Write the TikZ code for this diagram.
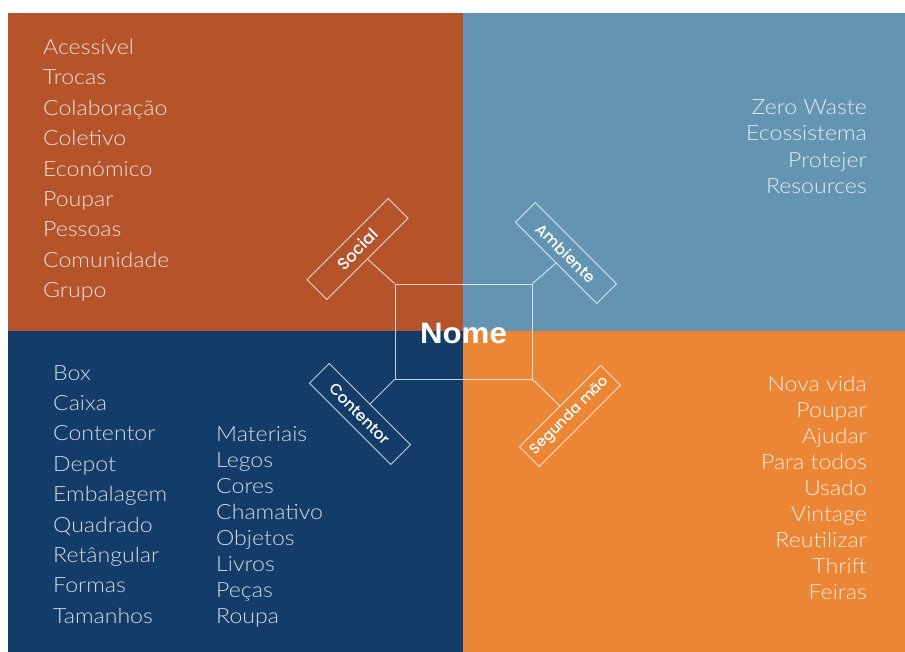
\documentclass[tikz,border=0pt]{standalone}
\usepackage{fontspec}
\IfFontExistsTF{Lato Light}
  {\newfontfamily\listfont[FakeStretch=1.1]{Lato Light}}
  {\newfontfamily\listfont[FakeStretch=1.1]{Lato}}
\IfFontExistsTF{Poppins Medium}
  {\newfontfamily\labelfont{Poppins Medium}}
  {\newfontfamily\labelfont[FakeBold=0.5]{Poppins}}
\newfontfamily\titlefont[FakeStretch=1.06]{Liberation Sans}
\definecolor{rust}{HTML}{B5542B}
\definecolor{steel}{HTML}{6395B3}
\definecolor{navy}{HTML}{133C68}
\definecolor{tangerine}{HTML}{EA8636}
\tikzset{
  word/.style={font=\listfont\fontsize{21}{21}\selectfont, text=white, text opacity=0.82, inner sep=0pt},
  wordL/.style={word, anchor=base west},
  wordR/.style={word, anchor=base east},
  frame/.style={draw=white, draw opacity=0.75, line width=0.9pt},
  tagbox/.style={frame, minimum width=115pt, minimum height=28pt, inner sep=0pt, text=white},
  tagsize/.style={font=\labelfont\fontsize{#1}{#1}\selectfont},
  link/.style={draw=white, draw opacity=0.75, line width=0.9pt}
}
\begin{document}
\begin{tikzpicture}[x=1pt, y=-1pt]
  \useasboundingbox (0,0) rectangle (905,652);
  % four quadrants
  \fill[rust] (8,13) rectangle (463,331);
  \fill[steel] (463,13) rectangle (905,331);
  \fill[navy] (8,331) rectangle (463,652);
  \fill[tangerine] (463,331) rectangle (905,652);

  % word lists
  \foreach \w [count=\i] in {Acessível, Trocas, Colaboração, Coletivo, Económico, Poupar, Pessoas, Comunidade, Grupo}
    \node[wordL] (soc\i) at (43, 54.5+30.4*\i-30.4) {\w};
  \foreach \w [count=\i] in {Zero Waste, Ecossistema, Protejer, Resources}
    \node[wordR] (amb\i) at (867, 114.5+26.3*\i-26.3) {\w};
  \foreach \w [count=\i] in {Box, Caixa, Contentor, Depot, Embalagem, Quadrado, Retângular, Formas, Tamanhos}
    \node[wordL] (cona\i) at (53, 380+30.4*\i-30.4) {\w};
  \foreach \w [count=\i] in {Materiais, Legos, Cores, Chamativo, Objetos, Livros, Peças, Roupa}
    \node[wordL] (conb\i) at (216, 441.5+26*\i-26) {\w};
  \foreach \w [count=\i] in {Nova vida, Poupar, Ajudar, Para todos, Usado, Vintage, Reutilizar, Thrift, Feiras}
    \node[wordR] (seg\i) at (867, 391.5+26*\i-26) {\w};

  % central box and its four branches
  \node[frame, minimum width=137pt, minimum height=95pt, inner sep=0pt] (nome) at (463.5,331.5) {};
  \node[font=\titlefont\bfseries\fontsize{29.5}{29.5}\selectfont, text=white, inner sep=0pt]
    (nometext) at (463.5,333.5) {Nome};
  \node[tagbox, tagsize=16.5, rotate=45] (social) at (357.5,249) {Social};
  \node[tagbox, tagsize=15.5, rotate=-45] (ambiente) at (566,253) {Ambiente};
  \node[tagbox, tagsize=15.5, rotate=-45] (contentor) at (360,414) {Contentor};
  \node[tagbox, tagsize=14.5, rotate=45] (segunda) at (570,416) {Segunda mão};
  \draw[link] (nome.north west) -- (social.south);
  \draw[link] (nome.north east) -- (ambiente.south);
  \draw[link] (nome.south west) -- (contentor.north);
  \draw[link] (nome.south east) -- (segunda.north);
\end{tikzpicture}
\end{document}
